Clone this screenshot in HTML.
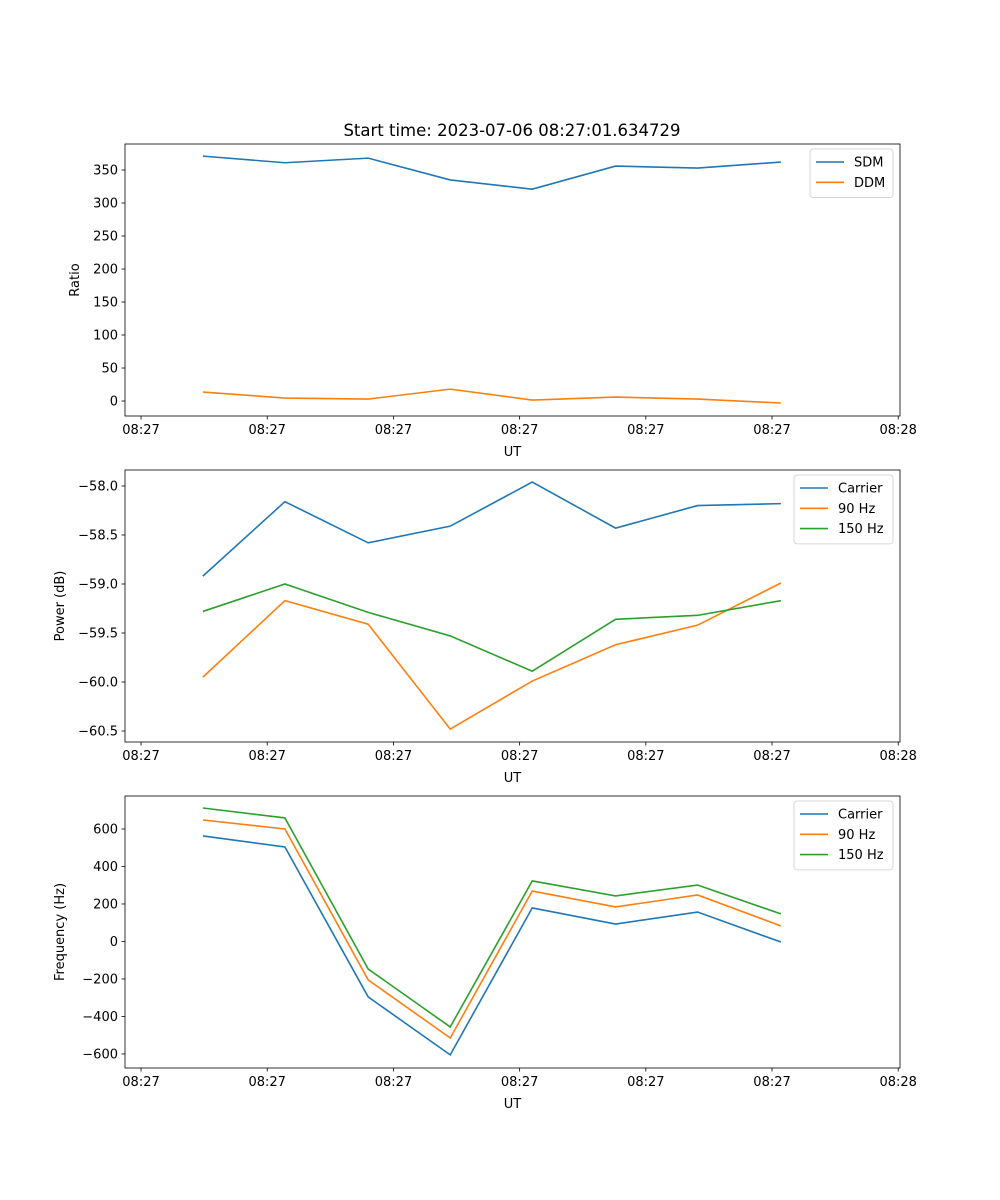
<!DOCTYPE html>
<html><head><meta charset="utf-8"><style>
html,body{margin:0;padding:0;background:#fff;}
svg{display:block;font-family:"DejaVu Sans","Liberation Sans",sans-serif;}
</style></head><body>
<svg id="fig" width="1000" height="1200" xmlns="http://www.w3.org/2000/svg">
<text x="512" y="136" font-size="16.5" text-anchor="middle">Start time: 2023-07-06 08:27:01.634729</text>
</svg>
<script>
const times = [4.9, 11.4, 18.0, 24.5, 31.0, 37.6, 44.1, 50.7];
const xTickVals = [0, 10, 20, 30, 40, 50, 60];
const xTickLabels = ["08:27","08:27","08:27","08:27","08:27","08:27","08:28"];
const sdm = [371, 361, 368, 335, 321, 356, 353, 362];
const ddm = [13.6, 4.5, 3, 18, 1.5, 6, 3, -3];
const powCarrier = [-58.92, -58.16, -58.58, -58.41, -57.96, -58.43, -58.20, -58.18];
const pow90 = [-59.95, -59.17, -59.41, -60.48, -59.99, -59.62, -59.42, -58.99];
const pow150 = [-59.28, -59.00, -59.29, -59.53, -59.89, -59.36, -59.32, -59.17];
const freqCarrier = [563, 504, -296, -605, 179, 93, 157, -3];
const freq90 = [648, 600, -205, -515, 269, 184, 248, 83];
const freq150 = [712, 659, -147, -456, 323, 243, 301, 147];
const ratioTicks = [0, 50, 100, 150, 200, 250, 300, 350];
const powerTicks = [-58.0, -58.5, -59.0, -59.5, -60.0, -60.5];
const freqTicks = [600, 400, 200, 0, -200, -400, -600];

const NS = "http://www.w3.org/2000/svg";
const svg = document.getElementById('fig');
function mk(tag, attrs, parent) {
  const e = document.createElementNS(NS, tag);
  for (const k in attrs) e.setAttribute(k, attrs[k]);
  (parent || svg).appendChild(e);
  return e;
}
const L = 125, R = 900, xmin = -1.27, xmax = 60.14;
const xs = v => L + (v - xmin) / (xmax - xmin) * (R - L);
const C = ['#1f77b4', '#ff7f0e', '#2ca02c'];

function panel(name, top, bottom, ymin, ymax, ticks, fmt, ylabel, series, labels, legendW) {
  const g = mk('g', {});
  
  
  const ys = v => bottom - (v - ymin) / (ymax - ymin) * (bottom - top);
  ticks.forEach(t => {
    const y = ys(t);
    mk('line', {x1: L - 3.5, x2: L, y1: y, y2: y, stroke: '#000', 'stroke-width': 0.8}, g);
    const tx = mk('text', {x: L - 7, y: y + 4.5, 'font-size': 13, 'text-anchor': 'end'}, g);
    tx.textContent = fmt(t);
    
    
  });
  xTickVals.forEach((t, i) => {
    const x = xs(t);
    mk('line', {x1: x, x2: x, y1: bottom, y2: bottom + 3.5, stroke: '#000', 'stroke-width': 0.8}, g);
    const tx = mk('text', {x: x, y: bottom + 18, 'font-size': 13, 'text-anchor': 'middle'}, g);
    tx.textContent = xTickLabels[i];
    
    
  });
  const xl = mk('text', {x: (L + R) / 2, y: bottom + 40, 'font-size': 13, 'text-anchor': 'middle'}, g);
  xl.textContent = 'UT';
  
  
  const cy = (top + bottom) / 2;
  const yl = mk('text', {x: 0, y: 0, 'font-size': 13, 'text-anchor': 'middle', transform: `translate(${name === 'ratio' ? 79 : 64},${cy}) rotate(-90)`}, g);
  yl.textContent = ylabel;
  
  
  series.forEach((s, i) => {
    const d = s.map((v, j) => (j ? 'L' : 'M') + xs(times[j]).toFixed(2) + ' ' + ys(v).toFixed(2)).join(' ');
    const p = mk('path', {d: d, fill: 'none', stroke: C[i], 'stroke-width': 1.6}, g);
    
    
  });
  const fr = mk('rect', {x: L, y: top, width: R - L, height: bottom - top, fill: 'none', stroke: '#000', 'stroke-width': 0.8}, g);
  
  
  const lx = 893 - legendW, ly = top + 5;
  const lg = mk('g', {}, g);
  
  
  mk('rect', {x: lx, y: ly, width: legendW, height: 8 + labels.length * 20.3, rx: 3, fill: '#fff', stroke: '#ccc', 'stroke-width': 0.8, 'fill-opacity': 0.8}, lg);
  labels.forEach((lab, i) => {
    const yy = ly + 13 + i * 20.3;
    mk('line', {x1: lx + 6, x2: lx + 34, y1: yy, y2: yy, stroke: C[i], 'stroke-width': 1.6}, lg);
    const t = mk('text', {x: lx + 44, y: yy + 4.5, 'font-size': 13}, lg);
    t.textContent = lab;
    
    
  });
}
const minus = s => s.replace('-', '\u2212');
panel('ratio', 144, 416, -22.7, 389.4, ratioTicks, t => minus(String(t)), 'Ratio', [sdm, ddm], ['SDM', 'DDM'], 83);
panel('power', 470, 742, -60.612, -57.837, powerTicks, t => minus(t.toFixed(1)), 'Power (dB)', [powCarrier, pow90, pow150], ['Carrier', '90 Hz', '150 Hz'], 99);
panel('frequency', 796, 1068, -675, 776, freqTicks, t => minus(String(t)), 'Frequency (Hz)', [freqCarrier, freq90, freq150], ['Carrier', '90 Hz', '150 Hz'], 99);
</script>
</body></html>
